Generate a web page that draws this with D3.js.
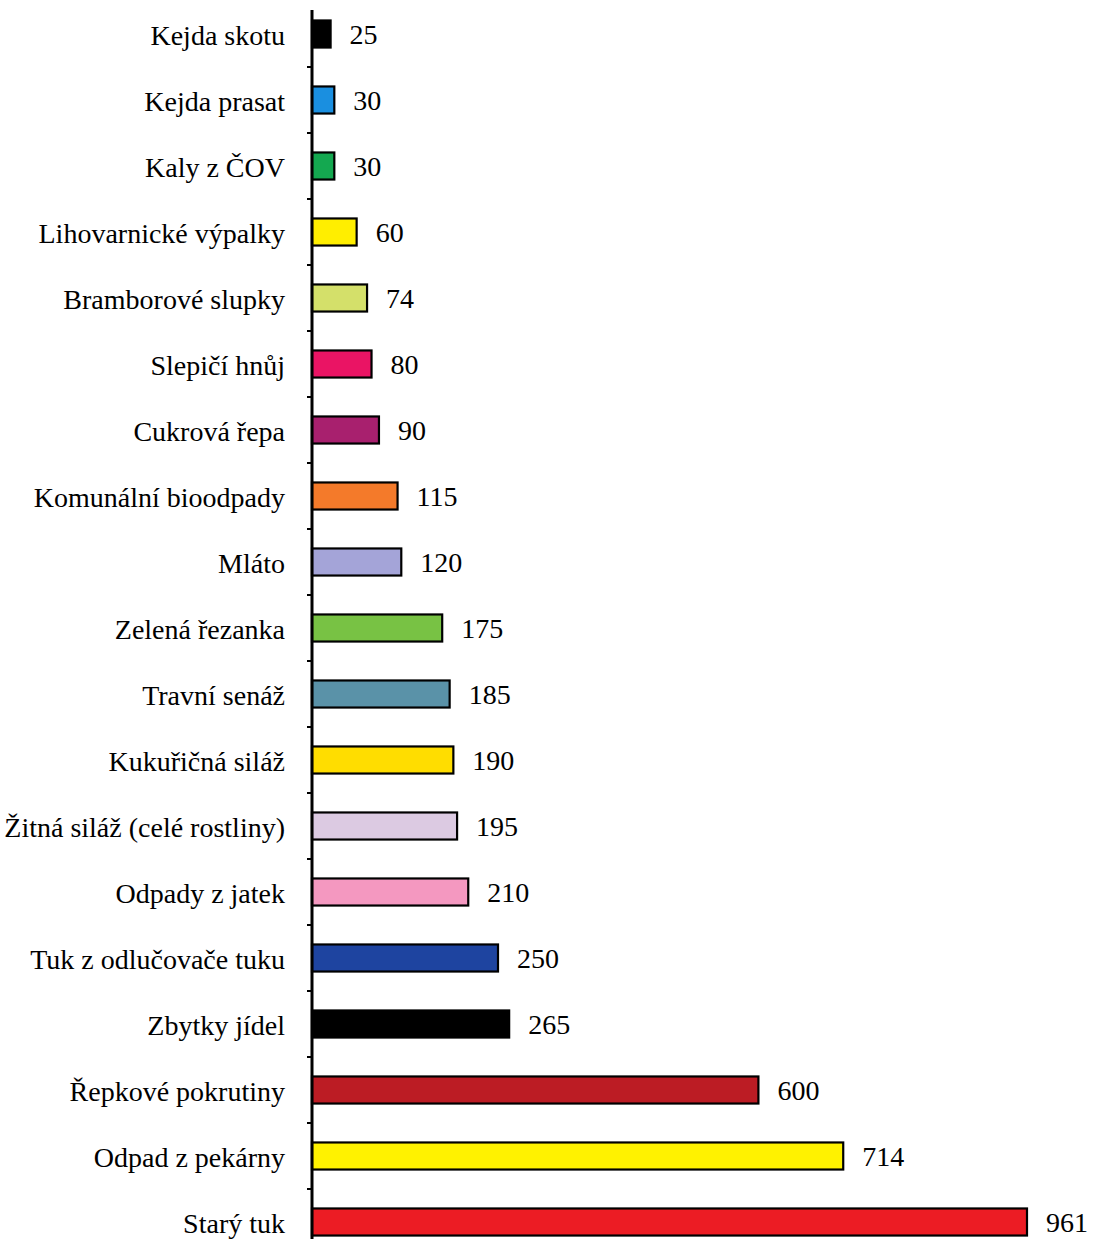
<!DOCTYPE html>
<html>
<head>
<meta charset="utf-8">
<script src="https://cdn.jsdelivr.net/npm/d3@7"></script>
<style>
  html, body { margin: 0; padding: 0; background: #fff; }
  svg { display: block; }
  text { font-family: "Liberation Serif", "Times New Roman", serif; fill: #000; }
</style>
</head>
<body>
<svg id="chart" width="1107" height="1239"></svg>
<script>
const categories = [
  "Kejda skotu", "Kejda prasat", "Kaly z ČOV", "Lihovarnické výpalky",
  "Bramborové slupky", "Slepičí hnůj", "Cukrová řepa", "Komunální bioodpady",
  "Mláto", "Zelená řezanka", "Travní senáž", "Kukuřičná siláž",
  "Žitná siláž (celé rostliny)", "Odpady z jatek", "Tuk z odlučovače tuku",
  "Zbytky jídel", "Řepkové pokrutiny", "Odpad z pekárny", "Starý tuk"
];
const values = [25, 30, 30, 60, 74, 80, 90, 115, 120, 175, 185, 190, 195, 210, 250, 265, 600, 714, 961];
const colors = [
  "#000000", "#1a8fe0", "#14a850", "#ffee00",
  "#d4e06a", "#ea1464", "#a8206e", "#f47a2a",
  "#a4a4d8", "#78c244", "#5a92a8", "#ffdd00",
  "#dccae2", "#f498c0", "#1e44a0",
  "#000000", "#bc1c24", "#fff200", "#ec1c24"
];

const svg = d3.select("#chart");
const axisX = 312;

const x = d3.scaleLinear().domain([0, 961]).range([axisX, 1027]);
const y = d3.scaleBand().domain(categories).range([1, 1255])
  .paddingInner(0.59).paddingOuter(0.295);

const step = y.step();

// bars
svg.append("g").selectAll("rect")
  .data(categories)
  .join("rect")
  .attr("x", x(0))
  .attr("y", d => y(d))
  .attr("width", (d, i) => x(values[i]) - x(0))
  .attr("height", y.bandwidth())
  .attr("fill", (d, i) => colors[i])
  .attr("stroke", "#000")
  .attr("stroke-width", 2.2);

// value labels
svg.append("g").selectAll("text")
  .data(categories)
  .join("text")
  .attr("x", (d, i) => x(values[i]) + 19)
  .attr("y", d => y(d) + y.bandwidth() / 2)
  .attr("dy", "0.37em")
  .attr("font-size", 28)
  .text((d, i) => values[i]);

// category labels via axis
const yAxis = d3.axisLeft(y).tickSize(0).tickPadding(27);
const ag = svg.append("g").attr("transform", `translate(${axisX},0)`).call(yAxis);
ag.select(".domain").remove();
ag.selectAll("text")
  .attr("font-size", 28)
  .attr("font-family", "Liberation Serif, Times New Roman, serif")
  .attr("fill", "#000")
  .attr("dy", "0.4em");

// axis line
svg.append("line")
  .attr("x1", axisX).attr("x2", axisX)
  .attr("y1", 10).attr("y2", 1239)
  .attr("stroke", "#000").attr("stroke-width", 3);

// tick marks at category boundaries
const bounds = categories.slice(1).map(c => y(c) - step * y.paddingInner() / 2);
svg.append("g").selectAll("line")
  .data(bounds)
  .join("line")
  .attr("x1", axisX - 5).attr("x2", axisX)
  .attr("y1", d => d).attr("y2", d => d)
  .attr("stroke", "#000").attr("stroke-width", 2);
</script>
</body>
</html>
